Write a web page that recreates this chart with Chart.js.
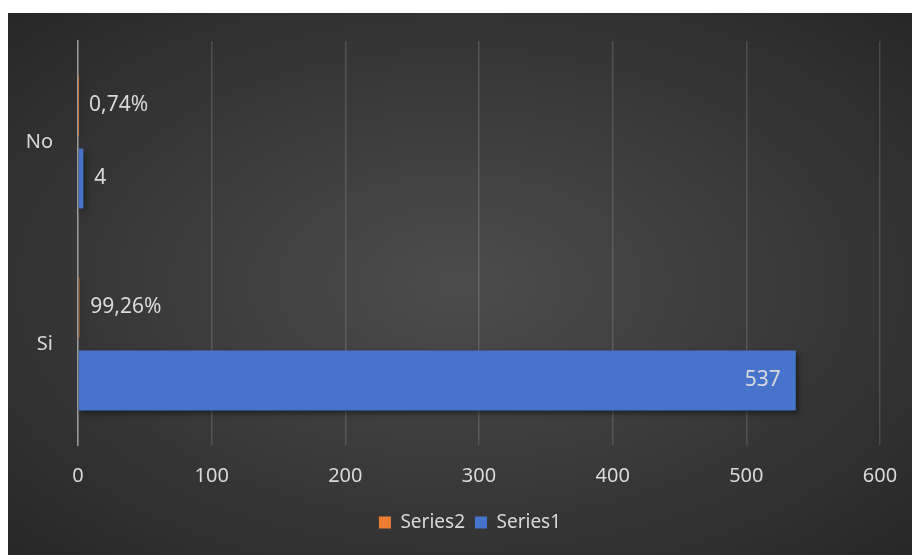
<!DOCTYPE html>
<html>
<head>
<meta charset="utf-8">
<script src="https://cdn.jsdelivr.net/npm/chart.js@4"></script>
<style>
  html, body { margin: 0; padding: 0; background: #fff; }
  #wrap {
    position: absolute; left: 8px; top: 13px; width: 904px; height: 542px;
    background: radial-gradient(ellipse at 50% 50%, #4c4c4c 0%, #3a3a3a 50%, #272727 100%);
  }
</style>
</head>
<body>
<div id="wrap"><canvas id="grafico" width="904" height="542"></canvas></div>
<script>
// Dados do gráfico
const categorias = ['No', 'Si'];
const serie1 = [4, 537];
const serie2 = [0.0074, 0.9926];
const marcasX = [0, 100, 200, 300, 400, 500, 600];

const corTexto = '#d9d9d9';
const fonteEixo = { family: "'Noto Sans', sans-serif", size: 20 };
const fonteLegenda = { family: "'Noto Sans', sans-serif", size: 19 };

// Rótulos de dados estilo Excel
const rotulos = {
    id: 'rotulos',
    afterDatasetsDraw(chart) {
        const ctx = chart.ctx;
        ctx.save();
        ctx.font = "21px 'Noto Sans', sans-serif";
        ctx.fillStyle = corTexto;
        ctx.textBaseline = 'middle';
        chart.data.datasets.forEach((ds, i) => {
            const meta = chart.getDatasetMeta(i);
            meta.data.forEach((bar, j) => {
                const v = ds.data[j];
                let txt = ds.label === 'Series2'
                    ? (v * 100).toFixed(2).replace('.', ',') + '%'
                    : String(v);
                const largura = bar.x - bar.base;
                if (largura > 80) {
                    ctx.textAlign = 'right';
                    ctx.fillText(txt, bar.x - 15, bar.y);
                } else {
                    ctx.textAlign = 'left';
                    ctx.fillText(txt, bar.x + 11, bar.y);
                }
            });
        });
        ctx.restore();
    }
};

// Sombra leve nas barras
const sombra = {
    id: 'sombra',
    afterLayout(chart) {
        // centraliza a legenda como no original
        const lg = chart.legend;
        if (lg) { lg.left += 26; lg.right += 26; }
    },
    beforeDatasetsDraw(chart) {
        const ctx = chart.ctx;
        ctx.save();
        ctx.shadowColor = 'rgba(0,0,0,0.5)';
        ctx.shadowBlur = 6;
        ctx.shadowOffsetX = 2;
        ctx.shadowOffsetY = 3;
    },
    afterDatasetsDraw(chart) {
        chart.ctx.restore();
    }
};

const config = {
    type: 'bar',
    data: {
        labels: categorias,
        datasets: [
            { label: 'Series2', data: serie2, backgroundColor: '#ED7D31', borderWidth: 0 },
            { label: 'Series1', data: serie1, backgroundColor: '#4673CC', borderWidth: 0 }
        ]
    },
    options: {
        indexAxis: 'y',
        responsive: false,
        animation: false,
        categoryPercentage: 0.723,
        barPercentage: 0.82,
        layout: { padding: { left: 0, right: 32, top: 28, bottom: 13 } },
        plugins: {
            legend: {
                position: 'bottom',
                labels: {
                    color: corTexto, font: fonteLegenda, boxWidth: 12, boxHeight: 12, padding: 10,
                    generateLabels(chart) {
                        return chart.data.datasets.map((ds, i) => ({
                            text: ds.label, fillStyle: ds.backgroundColor, strokeStyle: ds.backgroundColor,
                            lineWidth: 0, fontColor: corTexto, datasetIndex: i, hidden: false
                        }));
                    }
                }
            },
            tooltip: { enabled: false }
        },
        scales: {
            x: {
                min: 0, max: 600,
                afterBuildTicks(scale) { scale.ticks = marcasX.map(v => ({ value: v })); },
                afterFit(scale) { scale.height = 58; scale.paddingLeft = 0; scale.paddingRight = 0; },
                grid: { color: 'rgba(255,255,255,0.14)', lineWidth: 1.5, drawTicks: false },
                border: { display: false },
                ticks: { color: corTexto, font: fonteEixo, padding: 19 }
            },
            y: {
                afterFit(scale) { scale.width = 70; scale.paddingTop = 0; scale.paddingBottom = 0; },
                grid: { display: false, drawTicks: false },
                border: { display: true, color: '#9a9a9a', width: 1.5 },
                ticks: { color: corTexto, font: fonteEixo, padding: 25 }
            }
        }
    },
    plugins: [sombra, rotulos]
};

const meuGrafico = new Chart(document.getElementById('grafico'), config);
</script>
</body>
</html>
